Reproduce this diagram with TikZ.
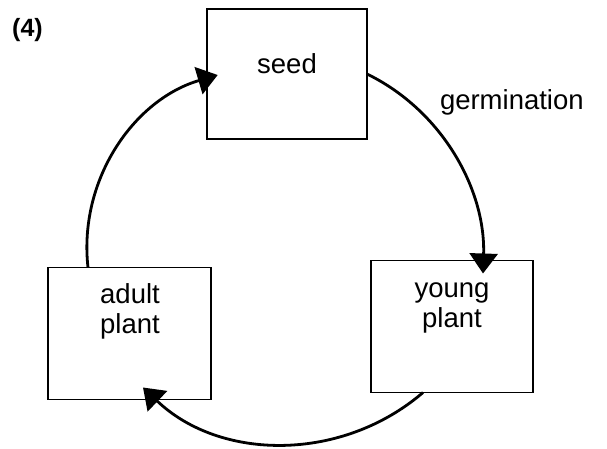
\documentclass[tikz,border=0pt]{standalone}
\usepackage{fontspec}
\setmainfont{Liberation Sans}
\usetikzlibrary{arrows.meta,calc}
\tikzset{
  box/.style={draw=black, line width=1.6pt, rectangle, minimum width=162pt, minimum height=132pt, inner sep=0pt, outer sep=0pt},
  lbl/.style={inner sep=0pt, outer sep=0pt, align=center, font=\fontsize{27.5}{30}\selectfont},
  cyc/.style={line width=2.8pt, -{Triangle[length=20pt,width=28pt]}}
}
\begin{document}
\begin{tikzpicture}[x=1pt,y=-1pt]
\useasboundingbox (0,0) rectangle (607,449);
% boxes
\node[box, minimum width=160pt, minimum height=130pt] (seed) at (287,74) {};
\node[box] (young) at (452,326.5) {};
\node[box, minimum width=163pt] (adult) at (129.5,333.5) {};
% texts
\node[lbl, anchor=base] (seedtxt) at (287,74) {seed};
\node[lbl, anchor=base] (youngtxt) at (452,327) {young\\plant};
\node[lbl, anchor=base] (adulttxt) at (130,333) {adult\\plant};
\node[lbl, anchor=base west] (germ) at (440,110) {germination};
\node[inner sep=0pt, anchor=base west, font=\fontsize{25}{28}\selectfont\bfseries] (num) at (12,37) {(4)};
% connector end points
\coordinate (a1) at ($(adult.north west)+(40,0)$);
\coordinate (s1) at ($(seed.west)+(10.7,1)$);
\coordinate (y1) at ($(young.north)+(31,13)$);
\coordinate (y2) at ($(young.south)+(-29,0)$);
\coordinate (a2) at ($(adult.south)+(13.5,-12)$);
% cycle arrows
\draw[cyc] (a1) .. controls +(-9.8,-87.3) and +(-84.2,24.8) .. (s1);
\draw[cyc] (seed.east) .. controls +(75.3,36.7) and +(2.6,-83.8) .. (y1);
\draw[cyc] (y2) .. controls +(-81,69.6) and +(77.3,73.7) .. (a2);
\end{tikzpicture}
\end{document}
